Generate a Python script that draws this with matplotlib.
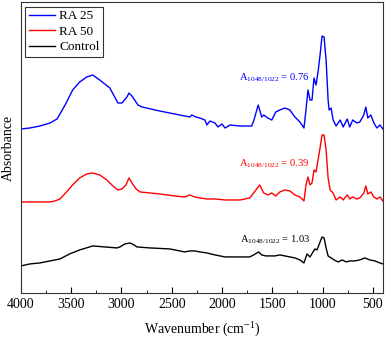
import matplotlib
matplotlib.use("Agg")
import matplotlib.pyplot as plt
from matplotlib.ticker import MultipleLocator

plt.rcParams["font.family"] = ["Liberation Serif", "DejaVu Serif"]
plt.rcParams["mathtext.fontset"] = "custom"
plt.rcParams["mathtext.rm"] = "Liberation Serif"
plt.rcParams["mathtext.it"] = "Liberation Serif:italic"

# RA 25 (stacked, arbitrary units)
wn_ra25 = [4000, 3910, 3810, 3710, 3640, 3560, 3485, 3415, 3345, 3285, 3215, 3115,
           3035, 2995, 2945, 2925, 2895, 2835, 2795, 2620, 2420, 2320, 2300, 2260,
           2220, 2170, 2150, 2120, 2070, 2040, 2000, 1970, 1920, 1820, 1705, 1685,
           1640, 1605, 1585, 1545, 1505, 1465, 1425, 1375, 1325, 1275, 1225, 1185,
           1165, 1145, 1125, 1105, 1085, 1065, 1045, 1025, 1005, 985, 965, 945,
           935, 915, 895, 865, 825, 795, 755, 730, 700, 660, 630, 590, 570, 550,
           520, 490, 460, 430, 400]
abs_ra25 = [1.64, 1.65, 1.67, 1.70, 1.74, 1.88, 2.03, 2.11, 2.16, 2.18, 2.13, 2.05,
            1.90, 1.90, 1.96, 2.00, 1.97, 1.88, 1.86, 1.82, 1.78, 1.76, 1.78, 1.76,
            1.75, 1.73, 1.68, 1.72, 1.70, 1.66, 1.69, 1.65, 1.68, 1.67, 1.67, 1.72,
            1.88, 1.76, 1.78, 1.75, 1.73, 1.81, 1.83, 1.85, 1.83, 1.76, 1.71, 1.65,
            1.83, 2.03, 1.93, 1.93, 2.15, 2.08, 2.21, 2.38, 2.57, 2.56, 2.33, 1.93,
            1.83, 1.85, 1.73, 1.67, 1.73, 1.66, 1.74, 1.66, 1.73, 1.70, 1.71, 1.78,
            1.86, 1.75, 1.78, 1.70, 1.65, 1.68, 1.64]

# RA 50
wn_ra50 = [4000, 3810, 3710, 3660, 3610, 3555, 3485, 3415, 3345, 3285, 3215, 3145,
           3085, 3035, 2995, 2955, 2925, 2895, 2855, 2815, 2715, 2620, 2470, 2370,
           2320, 2270, 2220, 2150, 2070, 1970, 1820, 1725, 1685, 1625, 1585, 1545,
           1505, 1465, 1425, 1375, 1325, 1275, 1225, 1185, 1165, 1145, 1125, 1105,
           1085, 1065, 1045, 1025, 1005, 985, 965, 945, 925, 895, 865, 825, 795,
           755, 730, 700, 660, 630, 590, 570, 550, 520, 490, 460, 430, 400]
abs_ra50 = [0.91, 0.91, 0.91, 0.92, 0.94, 1.00, 1.08, 1.15, 1.19, 1.20, 1.18, 1.13,
            1.07, 1.03, 1.04, 1.08, 1.15, 1.10, 1.04, 1.01, 1.00, 0.99, 0.97, 0.96,
            0.98, 0.96, 0.95, 0.94, 0.94, 0.93, 0.93, 0.95, 1.00, 1.08, 1.00, 0.98,
            1.00, 0.97, 1.01, 1.03, 1.02, 0.98, 0.96, 0.92, 1.08, 1.16, 1.08, 1.10,
            1.23, 1.21, 1.33, 1.45, 1.58, 1.58, 1.43, 1.15, 1.03, 1.00, 0.93, 0.96,
            0.93, 0.98, 0.94, 0.96, 0.94, 0.95, 1.00, 1.07, 0.99, 1.01, 0.96, 0.94,
            0.96, 0.92]

# Control
wn_ctrl = [4000, 3910, 3810, 3710, 3610, 3515, 3415, 3285, 3165, 3045, 3015, 2965,
           2915, 2875, 2845, 2715, 2520, 2370, 2320, 2270, 2220, 2150, 2070, 1970,
           1820, 1725, 1685, 1635, 1605, 1565, 1475, 1425, 1375, 1325, 1275, 1225,
           1185, 1155, 1125, 1095, 1075, 1055, 1025, 1005, 985, 965, 945, 915, 885,
           845, 805, 765, 730, 680, 630, 580, 530, 480, 430, 400]
abs_ctrl = [0.27, 0.29, 0.30, 0.32, 0.34, 0.39, 0.43, 0.47, 0.46, 0.45, 0.46, 0.49,
            0.50, 0.48, 0.46, 0.45, 0.44, 0.41, 0.42, 0.42, 0.41, 0.40, 0.38, 0.36,
            0.36, 0.36, 0.38, 0.41, 0.38, 0.37, 0.37, 0.38, 0.37, 0.36, 0.35, 0.33,
            0.30, 0.39, 0.36, 0.41, 0.44, 0.43, 0.51, 0.56, 0.55, 0.45, 0.37, 0.35,
            0.33, 0.31, 0.33, 0.31, 0.32, 0.32, 0.33, 0.35, 0.33, 0.32, 0.30, 0.29]

ratios = ["0.76", "0.39", "1.03"]

fig = plt.figure(figsize=(3.86, 3.41), dpi=100)
ax = fig.add_axes([0.054, 0.141, 0.938, 0.853])

ax.plot(wn_ra25, abs_ra25, color="#0000ff", lw=1.0, label="RA 25")
ax.plot(wn_ra50, abs_ra50, color="#ff0000", lw=1.0, label="RA 50")
ax.plot(wn_ctrl, abs_ctrl, color="black", lw=1.0, label="Control")

ax.text(1830, 2.15, r"A$_{1048/1022}$ = " + ratios[0], color="#0000ff",
        fontsize=7.6, va="center")
ax.text(1830, 1.29, r"A$_{1048/1022}$ = " + ratios[1], color="#ff0000",
        fontsize=7.6, va="center")
ax.text(1820, 0.53, r"A$_{1048/1022}$ = " + ratios[2], color="black",
        fontsize=7.6, va="center")

ax.set_xlim(4000, 400)
ax.set_ylim(0, 2.91)
ax.xaxis.set_major_locator(MultipleLocator(500))
ax.xaxis.set_minor_locator(MultipleLocator(250))
ax.tick_params(axis="x", which="major", direction="in", length=4, labelsize=10, pad=4)
ax.tick_params(axis="x", which="minor", direction="in", length=2.5)
ax.set_yticks([])
for s in ax.spines.values():
    s.set_color("#333333")
    s.set_linewidth(0.8)

ax.set_xlabel("Wavenumber (cm$^{-1}$)", fontsize=10, labelpad=7)
ax.set_ylabel("Absorbance", fontsize=10, labelpad=4)

leg = ax.legend(loc="upper left", fontsize=9.5, frameon=True, fancybox=False,
                edgecolor="black", handlelength=2.0, labelspacing=0.25,
                borderpad=0.25, borderaxespad=0.35, handletextpad=0.3)
leg.get_frame().set_linewidth(0.8)

fig.savefig("out.png", dpi=100)
